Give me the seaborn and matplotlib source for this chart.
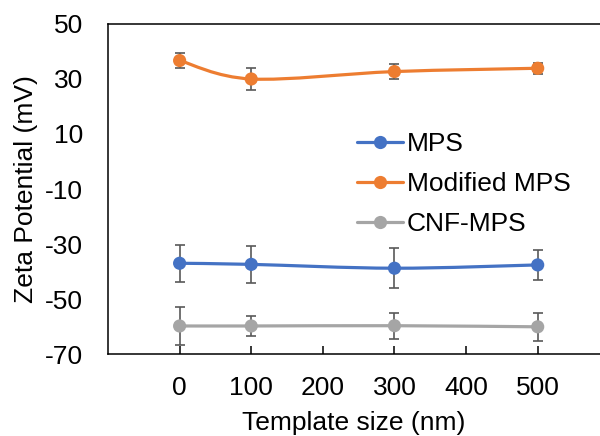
import numpy as np
import pandas as pd
import seaborn as sns
import matplotlib
matplotlib.use("Agg")
import matplotlib.pyplot as plt
from matplotlib.path import Path
from matplotlib.patches import PathPatch
from matplotlib.lines import Line2D

# data
sizes = [0, 100, 300, 500]
series = ["MPS", "Modified MPS", "CNF-MPS"]
mps = [-37.0, -37.4, -38.8, -37.6]
mps_err = [6.7, 6.7, 7.2, 5.6]
mod_mps = [36.7, 30.0, 32.7, 33.9]
mod_mps_err = [2.6, 3.9, 2.7, 2.0]
cnf_mps = [-59.8, -59.8, -59.7, -60.1]
cnf_mps_err = [7.0, 3.6, 4.8, 5.0]
colors = ["#4472C4", "#ED7D31", "#A5A5A5"]
xticks = [0, 100, 200, 300, 400, 500]
yticks = [-70, -50, -30, -10, 10, 30, 50]

df = pd.DataFrame({
    "size": sizes * 3,
    "zeta": mps + mod_mps + cnf_mps,
    "err": mps_err + mod_mps_err + cnf_mps_err,
    "sample": [s for s in series for _ in sizes],
})


def smooth_path(x, y):
    """Excel-like smoothed line: cubic bezier with catmull-rom control points."""
    pts = np.column_stack([x, y]).astype(float)
    ext = np.vstack([pts[0], pts, pts[-1]])
    verts = [pts[0]]
    codes = [Path.MOVETO]
    for i in range(len(pts) - 1):
        p0, p1, p2, p3 = ext[i], ext[i + 1], ext[i + 2], ext[i + 3]
        verts += [p1 + (p2 - p0) / 6, p2 - (p3 - p1) / 6, p2]
        codes += [Path.CURVE4] * 3
    return Path(verts, codes)


sns.set_theme(style="white")
plt.rcParams["font.family"] = ["Liberation Sans", "DejaVu Sans"]
plt.rcParams["axes.unicode_minus"] = False
plt.rcParams["text.color"] = "black"
plt.rcParams["axes.labelcolor"] = "black"
plt.rcParams["xtick.color"] = "black"
plt.rcParams["ytick.color"] = "black"

fig = plt.figure(figsize=(6.0, 4.36), dpi=100)
ax = fig.add_axes([0.18, 0.188, 0.82, 0.757])

for name, color in zip(series, colors):
    sub = df[df["sample"] == name]
    ax.add_patch(PathPatch(smooth_path(sub["size"], sub["zeta"]), fill=False,
                           edgecolor=color, lw=2.3, zorder=2,
                           capstyle="round", joinstyle="round"))
    ax.errorbar(sub["size"], sub["zeta"], yerr=sub["err"], fmt="none",
                ecolor="#595959", elinewidth=1.2, capsize=3.5, capthick=1.2,
                zorder=3)

sns.scatterplot(data=df, x="size", y="zeta", hue="sample", palette=colors,
                s=90, linewidth=0, legend=False, ax=ax, zorder=4)

ax.set_xlim(-100, 587)
ax.set_ylim(-70, 50)
ax.set_xticks(xticks)
ax.set_yticks(yticks)
ax.set_xlabel("Template size (nm)", fontsize=19, labelpad=8)
ax.set_ylabel("Zeta Potential (mV)", fontsize=19, labelpad=5)
ax.tick_params(axis="x", direction="in", length=6, width=1.1, color="black",
               labelsize=19, pad=16, bottom=True)
ax.tick_params(axis="y", length=0, labelsize=19, pad=18)

for side in ["top", "left", "bottom"]:
    ax.spines[side].set_color("black")
    ax.spines[side].set_linewidth(1.1)
ax.spines["right"].set_visible(False)

handles = [Line2D([], [], color=c, lw=2.3, marker="o", markersize=9.5,
                  markeredgewidth=0) for c in colors]
ax.legend(handles, series, loc="upper left", bbox_to_anchor=(0.506, 0.672),
          frameon=False, fontsize=19, handlelength=1.75, handletextpad=0.15,
          labelspacing=0.6, borderpad=0, borderaxespad=0)

fig.savefig("out.png", dpi=100)
